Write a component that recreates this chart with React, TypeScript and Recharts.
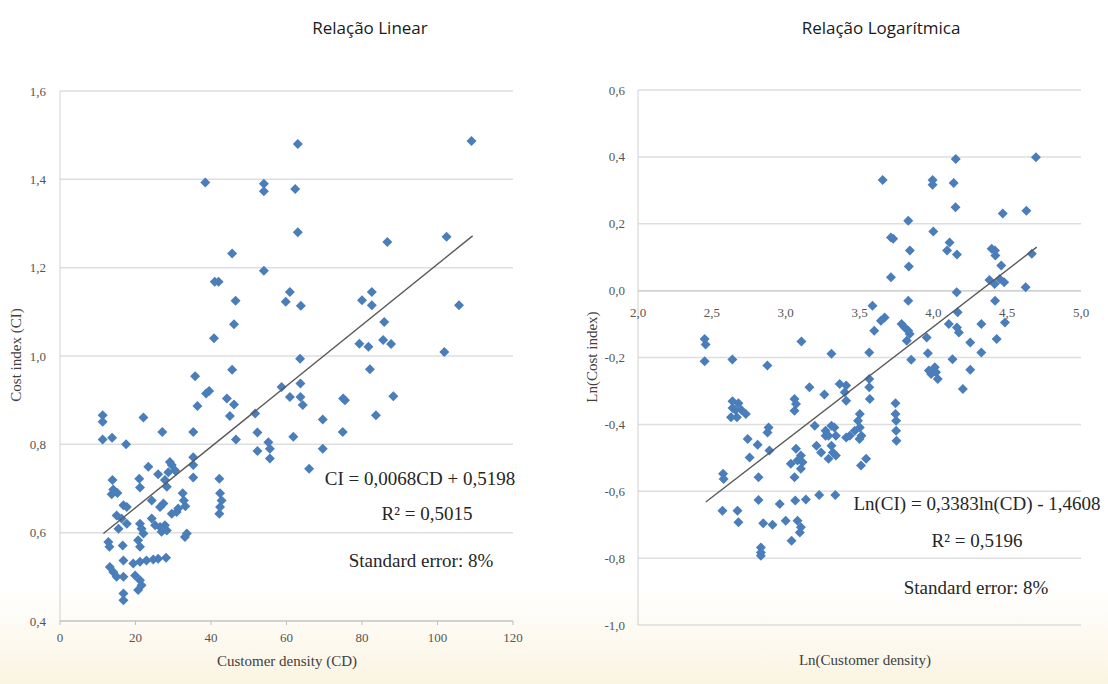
import React from "react";
import {
  ScatterChart,
  Scatter,
  XAxis,
  YAxis,
  CartesianGrid,
  ReferenceLine,
} from "recharts";

// Relação linear: [customer density, cost index]
const linearPoints: [number, number][] = [
  [109, 1.487], [63, 1.48], [38.5, 1.393], [54, 1.39], [54, 1.373], [62.3, 1.378],
  [63, 1.28], [86.7, 1.258], [102.4, 1.27], [45.6, 1.232], [54, 1.193], [41, 1.168],
  [42, 1.168], [60.9, 1.145], [59.8, 1.123], [63.8, 1.114], [46.5, 1.125], [80, 1.126],
  [82.6, 1.145], [82.6, 1.115], [105.7, 1.115], [46.1, 1.072], [85.9, 1.077], [40.8, 1.04],
  [79.3, 1.028], [81.7, 1.021], [85.6, 1.036], [87.7, 1.027], [101.8, 1.009], [63.6, 0.994],
  [82.1, 0.97], [45.6, 0.969], [35.8, 0.954], [39.5, 0.921], [38.7, 0.915], [63.7, 0.938],
  [58.7, 0.93], [36.4, 0.887], [44.2, 0.904], [46.1, 0.89], [45, 0.864], [51.7, 0.87],
  [60.9, 0.907], [63.7, 0.907], [64.3, 0.889], [75, 0.904], [75.5, 0.9], [88.3, 0.909],
  [83.7, 0.866], [69.6, 0.856], [74.9, 0.828], [61.8, 0.817], [69.6, 0.79], [66, 0.745],
  [52.3, 0.827], [46.6, 0.811], [52.3, 0.785], [55.2, 0.805], [55.6, 0.79], [55.6, 0.768],
  [35.3, 0.828], [27.1, 0.828], [22.1, 0.861], [11.3, 0.866], [11.3, 0.851], [11.3, 0.811],
  [13.8, 0.815], [17.5, 0.8], [35.3, 0.771], [35.3, 0.753], [35.3, 0.725], [42.2, 0.722],
  [42.4, 0.689], [42.8, 0.673], [42.4, 0.658], [42.2, 0.643], [29.1, 0.76], [29.6, 0.753],
  [30.5, 0.741], [23.4, 0.749], [26, 0.732], [28.7, 0.737], [21, 0.722], [21.2, 0.702],
  [27.8, 0.719], [28.3, 0.704], [13.9, 0.719], [14.1, 0.698], [13.7, 0.687], [15.2, 0.69],
  [32.5, 0.689], [32.8, 0.673], [33.2, 0.66], [31.3, 0.655], [30.9, 0.647], [29.6, 0.643],
  [24.3, 0.673], [26.5, 0.658], [27.4, 0.666], [16.8, 0.662], [17.7, 0.658], [15, 0.639],
  [16.3, 0.632], [17.7, 0.62], [21.2, 0.62], [21.6, 0.609], [22.1, 0.598], [24.3, 0.632],
  [25.2, 0.617], [26.5, 0.613], [27.8, 0.617], [28.3, 0.605], [26.9, 0.602], [33.6, 0.598],
  [33.1, 0.59], [15.5, 0.609], [12.8, 0.579], [13.1, 0.568], [16.6, 0.571], [20.7, 0.583],
  [21.2, 0.568], [16.8, 0.537], [19.4, 0.53], [21.2, 0.534], [22.9, 0.537], [24.7, 0.539],
  [26, 0.541], [28.1, 0.543], [13.2, 0.522], [14.1, 0.511], [15, 0.5], [16.8, 0.5],
  [19.9, 0.503], [21.2, 0.492], [21.6, 0.481], [20.7, 0.47], [16.8, 0.462], [16.8, 0.447],
];

// Relação logarítmica: [ln(customer density), ln(cost index)]
const logPoints: [number, number][] = [
  [4.152, 0.394], [4.695, 0.399], [3.657, 0.331], [3.995, 0.331], [3.995, 0.317], [4.138, 0.322],
  [4.15, 0.249], [4.47, 0.231], [4.63, 0.239], [3.83, 0.209], [4.0, 0.177], [3.713, 0.159],
  [3.728, 0.155], [4.11, 0.144], [4.093, 0.12], [4.16, 0.108], [3.841, 0.12], [4.395, 0.125],
  [4.417, 0.12], [4.42, 0.105], [4.667, 0.11], [4.46, 0.075], [3.834, 0.072], [3.713, 0.04],
  [4.38, 0.032], [4.415, 0.02], [4.45, 0.035], [4.48, 0.025], [4.625, 0.01], [4.158, -0.005],
  [3.83, -0.03], [4.418, -0.03], [3.588, -0.045], [3.67, -0.08], [3.645, -0.09], [3.6, -0.12],
  [3.785, -0.1], [3.806, -0.11], [3.83, -0.12], [3.84, -0.13], [3.82, -0.15], [3.955, -0.14],
  [4.165, -0.065], [4.105, -0.1], [4.16, -0.11], [4.173, -0.125], [4.325, -0.1], [4.485, -0.095],
  [4.429, -0.145], [4.25, -0.155], [4.325, -0.185], [3.963, -0.187], [3.566, -0.185], [3.85, -0.207],
  [4.13, -0.205], [4.25, -0.237], [3.97, -0.239], [4.01, -0.229], [4.018, -0.244], [4.03, -0.264],
  [3.985, -0.249], [4.2, -0.294], [3.566, -0.264], [3.566, -0.289], [3.57, -0.324], [3.744, -0.337],
  [3.744, -0.369], [3.748, -0.389], [3.748, -0.419], [3.75, -0.449], [2.451, -0.145], [2.458, -0.161],
  [2.451, -0.211], [2.639, -0.206], [2.876, -0.224], [3.107, -0.152], [3.31, -0.189], [3.161, -0.289],
  [3.262, -0.311], [3.366, -0.279], [3.41, -0.284], [3.4, -0.304], [3.41, -0.329], [3.06, -0.324],
  [3.07, -0.339], [3.06, -0.359], [2.64, -0.331], [2.68, -0.337], [2.64, -0.351], [2.66, -0.357],
  [2.7, -0.357], [2.63, -0.379], [2.67, -0.379], [2.73, -0.369], [3.502, -0.369], [3.49, -0.389],
  [3.502, -0.409], [3.513, -0.434], [3.468, -0.419], [3.434, -0.434], [3.41, -0.439], [3.5, -0.444],
  [3.197, -0.404], [3.27, -0.419], [3.31, -0.404], [3.33, -0.409], [3.29, -0.434], [3.34, -0.434],
  [3.27, -0.434], [2.884, -0.409], [2.877, -0.424], [2.743, -0.444], [2.81, -0.461], [2.89, -0.478],
  [2.756, -0.499], [3.07, -0.473], [3.103, -0.493], [3.08, -0.508], [3.035, -0.518], [3.114, -0.513],
  [3.103, -0.533], [3.06, -0.558], [3.209, -0.464], [3.24, -0.484], [3.31, -0.464], [3.32, -0.484],
  [3.34, -0.493], [3.29, -0.503], [3.51, -0.523], [3.545, -0.503], [2.576, -0.548], [2.58, -0.563],
  [2.816, -0.558], [2.816, -0.626], [2.96, -0.638], [3.065, -0.628], [3.137, -0.625], [3.227, -0.611],
  [3.336, -0.611], [2.572, -0.658], [2.674, -0.658], [2.68, -0.693], [2.848, -0.696], [2.911, -0.7],
  [3.0, -0.688], [3.08, -0.688], [3.103, -0.708], [3.096, -0.723], [3.04, -0.748], [2.832, -0.768],
  [2.832, -0.783], [2.832, -0.793],
];

// trend line end points
const linearTrend: [number, number][] = [[11.5, 0.598], [109.3, 1.272]];
const logTrend: [number, number][] = [[2.459, -0.632], [4.7, 0.13]];

const linearXTicks = [0, 20, 40, 60, 80, 100, 120];
const linearYTicks = [0.4, 0.6, 0.8, 1.0, 1.2, 1.4, 1.6];
const logXTicks = [2.0, 2.5, 3.0, 3.5, 4.0, 4.5, 5.0];
const logYTicks = [-1.0, -0.8, -0.6, -0.4, -0.2, 0.0, 0.2, 0.4, 0.6];

const toXY = (pts: [number, number][]) => pts.map(([x, y]) => ({ x, y }));
const fmt1 = (v: number) => v.toFixed(1).replace(".", ",");

const SERIF = "'Liberation Serif', 'DejaVu Serif', serif";
const BLUE = "#4a7ebb";
const GRID = "#dedede";

const Diamond = (props: any) => {
  const { cx, cy } = props;
  if (cx == null || cy == null) return <g />;
  const r = 5;
  return (
    <polygon
      points={`${cx},${cy - r} ${cx + r},${cy} ${cx},${cy + r} ${cx - r},${cy}`}
      fill={BLUE}
    />
  );
};

const NoDot = () => <g />;

const tickStyle = { fontFamily: SERIF, fontSize: 13, fill: "#555" };

// right chart: x labels sit just under the y = 0 line
const LOG_PLOT_H = 535;
const LOG_ZERO_UP = (LOG_PLOT_H * (0 - -1.0)) / 1.6 - 22;

const LogXTick = (props: any) => {
  const { x, y, payload } = props;
  return (
    <text x={x} y={y - LOG_ZERO_UP} dy="0.35em" textAnchor="middle" {...tickStyle}>
      {fmt1(payload.value)}
    </text>
  );
};

const Txt = ({ x, y, size = 19, rotate = 0, family = SERIF, color = "#262626", children }: any) => (
  <div
    style={{
      position: "absolute",
      left: x,
      top: y,
      transform: `translate(-50%, -50%) rotate(${rotate}deg)`,
      whiteSpace: "nowrap",
      fontFamily: family,
      fontSize: size,
      lineHeight: 1,
      color,
    }}
  >
    {children}
  </div>
);

export default function App() {
  const sans = "'Open Sans', 'Noto Sans', sans-serif";
  return (
    <div
      style={{
        position: "absolute",
        left: 0,
        top: 0,
        width: 1108,
        height: 684,
        overflow: "hidden",
        background: "linear-gradient(to bottom, #ffffff 0%, #ffffff 86%, #fbf4e2 100%)",
      }}
    >
      <div style={{ position: "absolute", left: 0, top: 0 }}>
        <ScatterChart width={540} height={684} margin={{ top: 91, right: 27, bottom: 33, left: 15 }}>
          <CartesianGrid vertical={false} stroke={GRID} strokeWidth={1.5} />
          <XAxis
            type="number"
            dataKey="x"
            domain={[0, 120]}
            ticks={linearXTicks}
            height={30}
            stroke="#bfbfbf"
            tickSize={4}
            tickMargin={8}
            tick={tickStyle}
          />
          <YAxis
            type="number"
            dataKey="y"
            domain={[0.4, 1.6]}
            ticks={linearYTicks}
            width={45}
            stroke="#d0d0d0"
            tickLine={false}
            tickSize={0}
            tickMargin={14}
            tickFormatter={fmt1}
            tick={tickStyle}
          />
          <Scatter data={toXY(linearPoints)} shape={Diamond} isAnimationActive={false} />
          <Scatter
            data={toXY(linearTrend)}
            shape={NoDot}
            line={{ stroke: "#5a5a5a", strokeWidth: 1.4 }}
            isAnimationActive={false}
          />
        </ScatterChart>
      </div>

      <div style={{ position: "absolute", left: 560, top: 0 }}>
        <ScatterChart width={548} height={684} margin={{ top: 90, right: 27, bottom: 29, left: 33 }}>
          <CartesianGrid vertical={false} stroke={GRID} strokeWidth={1.5} />
          <XAxis
            type="number"
            dataKey="x"
            domain={[2, 5]}
            ticks={logXTicks}
            height={30}
            axisLine={false}
            tickLine={false}
            tickSize={0}
            tickMargin={0}
            tick={LogXTick}
          />
          <YAxis
            type="number"
            dataKey="y"
            domain={[-1, 0.6]}
            ticks={logYTicks}
            width={45}
            stroke="#d0d0d0"
            tickLine={false}
            tickSize={0}
            tickMargin={13}
            tickFormatter={fmt1}
            tick={tickStyle}
          />
          <ReferenceLine y={0} stroke="#cfcfcf" strokeWidth={1.5} />
          <Scatter data={toXY(logPoints)} shape={Diamond} isAnimationActive={false} />
          <Scatter
            data={toXY(logTrend)}
            shape={NoDot}
            line={{ stroke: "#5a5a5a", strokeWidth: 1.4 }}
            isAnimationActive={false}
          />
        </ScatterChart>
      </div>

      <Txt x={370} y={27} size={17} family={sans} color="#1a1a1a">Relação Linear</Txt>
      <Txt x={881} y={27} size={17} family={sans} color="#1a1a1a">Relação Logarítmica</Txt>

      <Txt x={16} y={355} size={15} rotate={-90} color="#404040">Cost index (CI)</Txt>
      <Txt x={287} y={661} size={15} color="#404040">Customer density (CD)</Txt>
      <Txt x={592} y={357} size={15} rotate={-90} color="#404040">Ln(Cost index)</Txt>
      <Txt x={865} y={660} size={15} color="#404040">Ln(Customer density)</Txt>

      <Txt x={420} y={478}>CI = 0,0068CD + 0,5198</Txt>
      <Txt x={427} y={513}>R² = 0,5015</Txt>
      <Txt x={421} y={560}>Standard error: 8%</Txt>

      <Txt x={977} y={503}>Ln(CI) = 0,3383ln(CD) - 1,4608</Txt>
      <Txt x={977} y={540}>R² = 0,5196</Txt>
      <Txt x={976} y={587}>Standard error: 8%</Txt>
    </div>
  );
}
